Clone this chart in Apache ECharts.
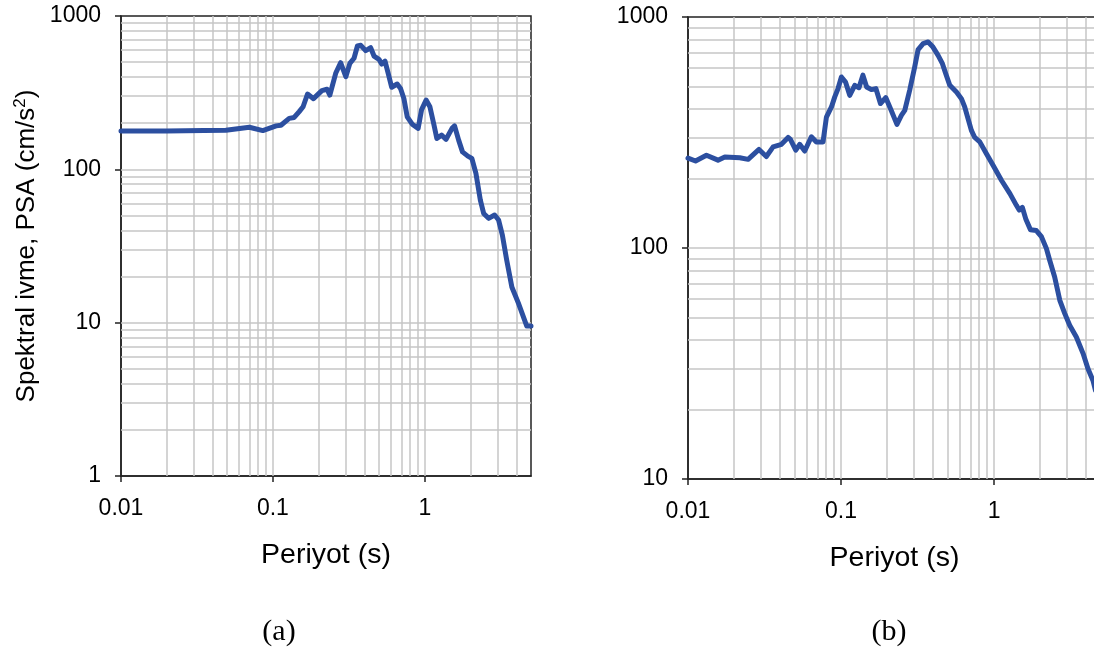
<!DOCTYPE html>
<html>
<head>
<meta charset="utf-8">
<script src="https://cdn.jsdelivr.net/npm/echarts@6/dist/echarts.min.js"></script>
<style>
  html, body { margin: 0; padding: 0; background: #fff; }
  #chart { width: 1094px; height: 652px; }
</style>
</head>
<body>
<div id="chart"></div>
<script>
// panel (a)
var periodA = [0.01, 0.02, 0.035, 0.049, 0.07, 0.0858, 0.105, 0.113, 0.128, 0.138, 0.149, 0.158, 0.169, 0.185,
  0.21, 0.227, 0.237, 0.259, 0.279, 0.302, 0.321, 0.342, 0.36, 0.379, 0.408, 0.44, 0.463, 0.499, 0.52, 0.547,
  0.574, 0.605, 0.658, 0.692, 0.728, 0.766, 0.826, 0.904, 0.951, 1.02, 1.08, 1.15, 1.2, 1.29, 1.38, 1.51, 1.57,
  1.67, 1.77, 1.92, 2.04, 2.17, 2.32, 2.44, 2.63, 2.88, 3.06, 3.24, 3.46, 3.74, 4.13, 4.69, 5]
var psaA = [178, 178, 179, 180, 188, 179, 192, 194, 215, 218, 238, 256, 310, 289,
  326, 333, 305, 423, 496, 402, 491, 530, 637, 644, 594, 621, 548, 522, 486, 508,
  423, 343, 360, 337, 290, 220, 197, 185, 244, 283, 256, 194, 159, 167, 157, 185, 192,
  155, 130, 122, 118, 94, 63, 51.6, 47.9, 50.4, 46.7, 37.2, 25.6, 17.1, 13.4, 9.5, 9.5]

// panel (b)
var periodB = [0.01, 0.0112, 0.0132, 0.0157, 0.0174, 0.0218, 0.0247, 0.0291, 0.0325, 0.036, 0.0408, 0.0451,
  0.0467, 0.0506, 0.0537, 0.0579, 0.064, 0.069, 0.0763, 0.0803, 0.0866, 0.091, 0.0956, 0.1006, 0.107, 0.114,
  0.123, 0.131, 0.139, 0.147, 0.158, 0.169, 0.181, 0.196, 0.213, 0.232, 0.248, 0.261, 0.281, 0.303, 0.319,
  0.344, 0.371, 0.399, 0.431, 0.46, 0.483, 0.514, 0.568, 0.612, 0.643, 0.676, 0.711, 0.748, 0.807, 0.892,
  0.985, 1.12, 1.27, 1.4, 1.46, 1.53, 1.61, 1.73, 1.89, 2.04, 2.2, 2.31, 2.49, 2.69, 2.9, 3.12, 3.45, 3.82,
  4.11, 4.43, 4.6]
var psaB = [245, 238, 252, 240, 248, 246, 242, 267, 249, 274, 281, 301,
  295, 265, 281, 263, 303, 288, 288, 369, 408, 451, 490, 550, 523, 458,
  506, 494, 560, 498, 485, 490, 422, 448, 394, 343, 375, 394, 482, 608, 723,
  767, 780, 741, 682, 628, 569, 506, 473, 443, 408, 363, 323, 301, 288, 256,
  228, 196, 172, 153, 146, 150, 134, 120, 119, 112, 99.4, 88.5, 74.9, 59.4, 52.0, 46.3, 41.2, 34.9,
  30.0, 26.7, 24.2]

var xTicks = [0.01, 0.1, 1]
var yTicksA = [1, 10, 100, 1000]
var yTicksB = [10, 100, 1000]
var gridX = [0.02, 0.03, 0.04, 0.05, 0.06, 0.07, 0.08, 0.09, 0.1, 0.2, 0.3, 0.4, 0.5, 0.6, 0.7, 0.8, 0.9, 1, 2, 3, 4]
var gridYA = [2, 3, 4, 5, 6, 7, 8, 9, 10, 20, 30, 40, 50, 60, 70, 80, 90, 100, 200, 300, 400, 500, 600, 700, 800, 900]
var gridYB = [20, 30, 40, 50, 60, 70, 80, 90, 100, 200, 300, 400, 500, 600, 700, 800, 900]

var lineColor = '#2c4fa0'
var gridColor = '#c6c6c6'
var axisColor = '#222'

function zip(xs, ys) {
  return xs.map(function(x, i) { return [x, ys[i]] })
}

function gridLines(ys) {
  var d = []
  gridX.forEach(function(v) { d.push({ xAxis: v }) })
  ys.forEach(function(v) { d.push({ yAxis: v }) })
  return d
}

function xAxisFor(idx) {
  return {
    type: 'log',
    gridIndex: idx,
    logBase: 10,
    min: 0.01,
    max: 5,
    name: 'Periyot (s)',
    nameLocation: 'middle',
    nameGap: 65,
    nameTextStyle: { fontFamily: 'Liberation Sans', fontSize: 28.5, color: '#000' },
    axisLine: { lineStyle: { color: axisColor, width: 1.5 } },
    axisTick: { show: true, length: 6, customValues: xTicks, lineStyle: { color: axisColor, width: 1.5 } },
    axisLabel: {
      customValues: xTicks,
      margin: 21,
      fontFamily: 'Liberation Sans',
      fontSize: 23,
      color: '#000',
      formatter: function(v) { return String(+v.toPrecision(3)) }
    },
    splitLine: { show: false }
  }
}

function yAxisFor(idx, min, ticks, withName) {
  var ax = {
    type: 'log',
    gridIndex: idx,
    logBase: 10,
    min: min,
    max: 1000,
    axisLine: { lineStyle: { color: axisColor, width: 1.5 } },
    axisTick: { show: true, length: 6, customValues: ticks, lineStyle: { color: axisColor, width: 1.5 } },
    axisLabel: {
      customValues: ticks,
      margin: 20,
      fontFamily: 'Liberation Sans',
      fontSize: 23,
      color: '#000',
      formatter: function(v) { return String(Math.round(v)) }
    },
    splitLine: { show: false }
  }
  if (withName) {
    ax.name = '{a|Spektral ivme, PSA (cm/s}{s|2}{a|)}'
    ax.nameLocation = 'middle'
    ax.nameGap = 80
    ax.nameTextStyle = {
      rich: {
        a: { fontFamily: 'Liberation Sans', fontSize: 26, color: '#000' },
        s: { fontFamily: 'Liberation Sans', fontSize: 17, color: '#000', verticalAlign: 'top', padding: [0, 0, 12, 0] }
      }
    }
  }
  return ax
}

var chart = echarts.init(document.getElementById('chart'))
chart.setOption({
  animation: false,
  backgroundColor: '#fff',
  grid: [
    { left: 121, top: 16, width: 410, height: 460, outerBoundsMode: 'none', show: true, borderColor: axisColor, borderWidth: 1.5, backgroundColor: 'transparent' },
    { left: 688, top: 17, width: 413, height: 462, outerBoundsMode: 'none', show: true, borderColor: axisColor, borderWidth: 1.5, backgroundColor: 'transparent' }
  ],
  xAxis: [xAxisFor(0), xAxisFor(1)],
  yAxis: [yAxisFor(0, 1, yTicksA, true), yAxisFor(1, 10, yTicksB, false)],
  graphic: [
    { type: 'text', x: 279, y: 632, style: { text: '(a)', align: 'center', verticalAlign: 'middle', fontFamily: 'Liberation Serif', fontSize: 30, fill: '#000' } },
    { type: 'text', x: 889, y: 632, style: { text: '(b)', align: 'center', verticalAlign: 'middle', fontFamily: 'Liberation Serif', fontSize: 30, fill: '#000' } }
  ],
  series: [
    {
      type: 'line', xAxisIndex: 0, yAxisIndex: 0, data: [], z: 1, silent: true,
      markLine: {
        silent: true, symbol: 'none', animation: false, label: { show: false },
        lineStyle: { color: gridColor, type: 'solid', width: 1.5 },
        data: gridLines(gridYA)
      }
    },
    {
      type: 'line', xAxisIndex: 1, yAxisIndex: 1, data: [], z: 1, silent: true,
      markLine: {
        silent: true, symbol: 'none', animation: false, label: { show: false },
        lineStyle: { color: gridColor, type: 'solid', width: 1.5 },
        data: gridLines(gridYB)
      }
    },
    {
      type: 'line', xAxisIndex: 0, yAxisIndex: 0, z: 5,
      data: zip(periodA, psaA),
      showSymbol: false,
      lineStyle: { color: lineColor, width: 5, join: 'round', cap: 'round' }
    },
    {
      type: 'line', xAxisIndex: 1, yAxisIndex: 1, z: 5,
      data: zip(periodB, psaB),
      showSymbol: false,
      lineStyle: { color: lineColor, width: 5, join: 'round', cap: 'round' }
    }
  ]
})
</script>
</body>
</html>
